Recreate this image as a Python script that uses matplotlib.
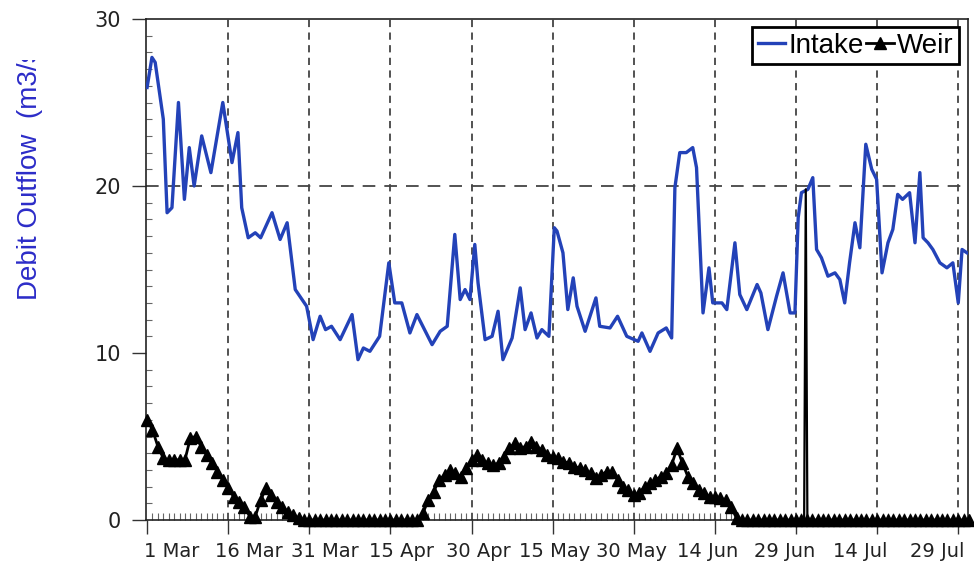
import matplotlib
matplotlib.use("Agg")
import matplotlib.pyplot as plt
from matplotlib.transforms import ScaledTranslation, Bbox
from matplotlib.ticker import MultipleLocator, FixedLocator

# ---------------- data (day 0 = 1 March) ----------------
tick_days = [0, 15, 30, 45, 60, 75, 90, 105, 120, 135, 150]
tick_labels = ["1 Mar", "16 Mar", "31 Mar", "15 Apr", "30 Apr", "15 May",
               "30 May", "14 Jun", "29 Jun", "14 Jul", "29 Jul"]

intake_day = [0, 0.9, 1.5, 3, 3.7, 4.6, 5.8, 6.9, 7.8, 8.7, 10.1, 11.8, 14, 15.7,
              16.8, 17.5, 18.7, 20, 21, 23.1, 24.6, 25.9, 27.4, 29.5, 30.7, 32,
              33, 34.1, 35.7, 37.9, 39, 40, 41.2, 43, 44.7, 45.8, 47.1, 48.6,
              49.9, 52.7, 54.2, 55.5, 56.9, 57.9, 58.8, 59.7, 60.6, 61.2, 62.5,
              63.8, 64.9, 65.8, 67.5, 69, 69.9, 71, 72.1, 73, 74.3, 75.3, 75.8,
              76.9, 77.8, 78.8, 79.5, 81, 83, 83.7, 85.6, 87, 88.7, 90.8, 91.5,
              93, 94.5, 96, 97, 97.6, 98.5, 99.7, 100.9, 101.6, 102.8, 103.9,
              104.6, 106.3, 107.2, 108.7, 109.6, 110.9, 112.8, 113.5, 114.8,
              116.4, 117.6, 118.9, 119.8, 120.4, 121, 122.2, 123.1, 123.8,
              124.7, 125.9, 127.2, 128.1, 129, 129.9, 130.9, 131.8, 132.9, 134,
              134.9, 135.9, 137, 137.9, 138.8, 139.7, 141, 142, 142.9, 143.5,
              144.4, 145.3, 146.6, 147.9, 149, 150, 150.7, 151.6]
intake_val = [25.9, 27.7, 27.4, 24, 18.4, 18.7, 25, 19.2, 22.3, 20, 23.0, 20.8, 25,
              21.4, 23.2, 18.7, 16.9, 17.2, 16.9, 18.4, 16.8, 17.8, 13.8, 12.8,
              10.8, 12.2, 11.4, 11.6, 10.8, 12.3, 9.6, 10.3, 10.1, 11, 15.4, 13,
              13, 11.2, 12.3, 10.5, 11.3, 11.6, 17.1, 13.2, 13.8, 13.2, 16.5,
              14.2, 10.8, 11, 12.5, 9.6, 10.9, 13.9, 11.4, 12.4, 10.9, 11.4, 11.0,
              17.5, 17.3, 16, 12.6, 14.5, 12.8, 11.3, 13.3, 11.6, 11.5, 12.2, 11,
              10.7, 11.2, 10.1, 11.2, 11.5, 10.9, 19.9, 22, 22, 22.3, 21.1, 12.4,
              15.1, 13, 13, 12.6, 16.6, 13.5, 12.6, 14.1, 13.6, 11.4, 13.4, 14.8,
              12.4, 12.4, 18.1, 19.6, 19.8, 20.5, 16.2, 15.7, 14.6, 14.8, 14.4,
              13, 15.4, 17.8, 16.3, 22.5, 21, 20.4, 14.8, 16.6, 17.4, 19.5, 19.2,
              19.6, 16.6, 20.8, 16.9, 16.6, 16.2, 15.4, 15.1, 15.4, 13, 16.2, 16.0]

# daily weir outflow, 1 Mar .. 31 Jul
weir_val = [6.0, 5.4, 4.4, 3.7, 3.6, 3.6, 3.6, 3.6, 4.9, 5.0,
            4.4, 3.9, 3.4, 2.9, 2.4, 1.9, 1.4, 1.1, 0.8, 0.2,
            0.2, 1.2, 1.9, 1.5, 1.1, 0.8, 0.5, 0.3, 0.1, 0.0,
            0, 0, 0, 0, 0, 0, 0, 0, 0, 0,
            0, 0, 0, 0, 0, 0, 0, 0, 0, 0,
            0, 0.4, 1.2, 1.7, 2.4, 2.7, 3.0, 2.8, 2.6, 3.1,
            3.6, 3.9, 3.6, 3.4, 3.3, 3.4, 3.8, 4.3, 4.6, 4.3,
            4.4, 4.7, 4.4, 4.2, 3.9, 3.8, 3.7, 3.5, 3.4, 3.2,
            3.1, 3.0, 2.8, 2.5, 2.7, 2.9, 2.9, 2.4, 2.0, 1.8,
            1.5, 1.6, 2.0, 2.2, 2.4, 2.6, 2.8, 3.3, 4.3, 3.4,
            2.6, 2.2, 1.8, 1.6, 1.4, 1.4, 1.3, 1.2, 0.8, 0.1,
            0, 0, 0, 0, 0, 0, 0, 0, 0, 0,
            0, 0, 0, 0, 0, 0, 0, 0, 0, 0,
            0, 0, 0, 0, 0, 0, 0, 0, 0, 0,
            0, 0, 0, 0, 0, 0, 0, 0, 0, 0,
            0, 0, 0]
weir_day = list(range(len(weir_val)))
spike_day = [121.5, 121.8, 122.1]
spike_val = [0, 19.8, 0]

# ---------------- figure ----------------
W, H = 974, 569
fig = plt.figure(figsize=(W / 100, H / 100), dpi=100)
ax = fig.add_axes([146 / W, 1 - 520 / H, (968 - 146) / W, (520 - 19) / H])

blue = "#2342b8"
ax.plot(intake_day, intake_val, color=blue, lw=2.4, solid_joinstyle="round",
        label="Intake", zorder=3)
ax.plot(spike_day, spike_val, color="black", lw=1.6, zorder=4)
ax.plot(weir_day, weir_val, color="black", lw=2.0, marker="^", ms=9,
        label="Weir", zorder=5, clip_on=False)

ax.set_xlim(-0.2, 151.8)
ax.set_ylim(0, 30)

# grid lines
for d in tick_days[1:]:
    ax.axvline(d, color="#444444", lw=1.3, dashes=(4, 3), zorder=1)
ax.axhline(20, color="#444444", lw=1.3, dashes=(7, 5), zorder=1)

# ticks
ax.xaxis.set_major_locator(FixedLocator(tick_days))
ax.set_xticklabels(tick_labels)
ax.xaxis.set_minor_locator(MultipleLocator(1))
ax.yaxis.set_major_locator(MultipleLocator(10))
ax.yaxis.set_minor_locator(MultipleLocator(1))
ax.tick_params(axis="both", which="major", direction="out", length=10,
               width=1.0, color="#333333")
ax.tick_params(axis="x", which="minor", direction="in", length=5, width=0.8,
               color="#666666")
ax.tick_params(axis="y", which="minor", direction="in", length=4, width=0.8,
               color="#666666")
ax.tick_params(axis="x", which="major", labelsize=14, pad=6, labelcolor="#222222")
ax.tick_params(axis="y", which="major", labelsize=15, pad=8, labelcolor="#222222")
for lbl in ax.get_xticklabels() + ax.get_yticklabels():
    lbl.set_fontfamily("DejaVu Sans")
for i, lbl in enumerate(ax.get_xticklabels()):
    dx = (25 - 4.6 * i) / 100
    lbl.set_transform(lbl.get_transform() + ScaledTranslation(dx, 0, fig.dpi_scale_trans))

for s in ax.spines.values():
    s.set_color("#222222")
    s.set_linewidth(1.2)

# legend
leg = ax.legend(loc="upper right", bbox_to_anchor=(0.989, 0.984), borderaxespad=0,
                ncol=2, prop={"family": "Liberation Sans", "size": 20},
                handlelength=1.0, handletextpad=0.1, columnspacing=0.1,
                borderpad=0.2, fancybox=False, framealpha=1, edgecolor="black")
leg.get_frame().set_linewidth(2)

# y label (clipped at top as in original)
t = fig.text(30 / W, 1 - 300 / H, "Debit Outflow  (m3/s)", rotation=90,
             ha="center", va="bottom", color="#2c2cc8", fontsize=20,
             family="Liberation Sans", clip_on=True)
t.set_clip_box(Bbox([[0, 0], [W, H - 60]]))

fig.savefig("out.png", dpi=100)
